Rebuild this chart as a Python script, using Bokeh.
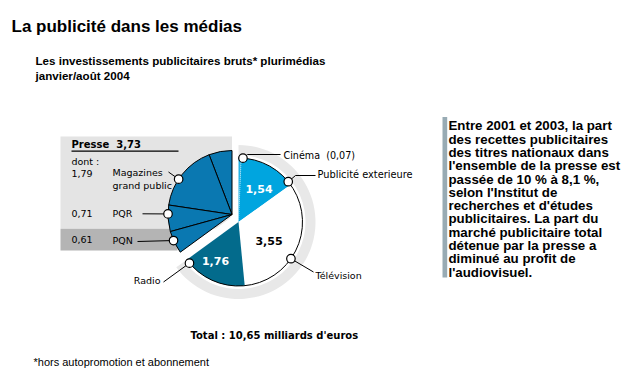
import math
from bokeh.plotting import figure
from bokeh.models import Range1d
from bokeh.embed import file_html
from bokeh.resources import INLINE
from bokeh.core.properties import value

# ---------------- data ----------------
total = 10.65
right_names = ["Cinéma", "Publicité exterieure", "Télévision", "Radio"]
right_values = [0.07, 1.54, 3.55, 1.76]
presse_total = 3.73
presse_names = ["Magazines grand public", "PQR", "PQN"]
presse_values = [1.79, 0.71, 0.61]
value_labels = ["1,54", "3,55", "1,76"]
presse_value_labels = ["1,79", "0,71", "0,61"]

title = "La publicité dans les médias"
subtitle = ["Les investissements publicitaires bruts* plurimédias", "janvier/août 2004"]
footnote = "*hors autopromotion et abonnement"
total_label = "Total : 10,65 milliards d'euros"
side_text = [
    "Entre 2001 et 2003, la part",
    "des recettes publicitaires",
    "des titres nationaux dans",
    "l'ensemble de la presse est",
    "passée de 10 % à 8,1 %,",
    "selon l'Institut de",
    "recherches et d'études",
    "publicitaires. La part du",
    "marché publicitaire total",
    "détenue par la presse a",
    "diminué au profit de",
    "l'audiovisuel.",
]

# ---------------- layout helpers ----------------
W, H = 627, 380
def X(s): return s
def Y(s): return H - s

p = figure(width=W, height=H, x_range=Range1d(0, W), y_range=Range1d(0, H),
           output_backend="svg", toolbar_location=None, min_border=0,
           x_axis_location=None, y_axis_location=None,
           outline_line_color=None, background_fill_color="white",
           border_fill_color="white")
p.grid.visible = False

DEG = 360.0 / total
R = 64
cx, cy = X(238), Y(221.5)
px, py = X(231.5), Y(214)

# right part angles (clockwise from top)
right_angles = []
a = 90.0
for v in right_values:
    end = a
    start = a - v * DEG
    right_angles.append((start, end))
    a = start
right_start = a

# presse angles (anticlockwise from top)
presse_all = [presse_total - sum(presse_values)] + presse_values
presse_angles = []
b = 90.0
for v in presse_all:
    presse_angles.append((b, b + v * DEG))
    b += v * DEG

rad = math.radians

# gray boxes
LIGHT = "#e4e4e4"
DARK = "#b4b4b4"
p.quad(left=[X(60)], right=[X(231.5)], top=[Y(136)], bottom=[Y(228.3)], fill_color=LIGHT, line_color=None)
p.quad(left=[X(60)], right=[X(177)], top=[Y(228.3)], bottom=[Y(250)], fill_color=DARK, line_color=None)

# white separation around the right part
p.wedge(x=[cx], y=[cy], radius=R, start_angle=[rad(right_start)], end_angle=[rad(90)],
        fill_color="white", line_color="white", line_width=16, line_join="round")

# grey ring behind
p.annular_wedge(x=[cx], y=[cy], inner_radius=67, outer_radius=77,
                start_angle=[rad(right_start)], end_angle=[rad(90)],
                fill_color="#e8e8e8", line_color=None)

# presse (exploded)
PRESSE = "#0a78b1"
p.wedge(x=[px] * 4, y=[py] * 4, radius=R,
        start_angle=[rad(s) for s, e in presse_angles],
        end_angle=[rad(e) for s, e in presse_angles],
        fill_color=PRESSE, line_color="black", line_width=1)

# right part
right_colors = ["#22b2e6", "#00a5df", "white", "#036b8c"]
p.wedge(x=[cx] * 4, y=[cy] * 4, radius=R,
        start_angle=[rad(s) for s, e in right_angles],
        end_angle=[rad(e) for s, e in right_angles],
        fill_color=right_colors, line_color=None)
p.arc(x=[cx], y=[cy], radius=R, start_angle=rad(right_start), end_angle=rad(90),
      line_color="black", line_width=1)
# cinema separator
cs = right_angles[0][0]
p.segment(x0=[cx], y0=[cy], x1=[cx + R * math.cos(rad(cs))], y1=[cy + R * math.sin(rad(cs))],
          line_color="#9fdcf3", line_width=1, line_dash="1 1")

# underline of Presse header
p.segment(x0=[X(71)], y0=[Y(150.7)], x1=[X(178)], y1=[Y(150.7)], line_color="black", line_width=1.2)

# markers and leader lines
def on_arc(c, ang, r=R):
    return (c[0] + r * math.cos(rad(ang)), c[1] + r * math.sin(rad(ang)))

markers = [
    (on_arc((cx, cy), 86), [(X(247), Y(154)), (X(280), Y(154))]),
    (on_arc((cx, cy), 39), [(X(295), Y(175)), (X(315), Y(175))]),
    (on_arc((cx, cy), -35), [(X(313), Y(271.5))]),
    (on_arc((cx, cy), -140), [(X(163), Y(281.5))]),
    (on_arc((px, py), 146.5), [(X(168), Y(171.5))]),
    (on_arc((px, py), 179.5), [(X(142), Y(213.3))]),
    (on_arc((px, py), 204), [(X(137), Y(241))]),
]
for (mx, my), pts in markers:
    xs = [mx] + [q[0] for q in pts]
    ys = [my] + [q[1] for q in pts]
    p.line(xs, ys, line_color="black", line_width=1)
mxs = [m[0][0] for m in markers]
mys = [m[0][1] for m in markers]
p.scatter(mxs, mys, size=8.5, marker="circle", fill_color="white", line_color="black", line_width=1.2)

FONT = value("DejaVu Sans")
SANS = value("Liberation Sans")
NB = "\u00a0"

def txt(x, y, s, size, font=FONT, style="normal", color="black", align="left", baseline="middle"):
    p.text(x=[X(x)], y=[Y(y)], text=[s], text_font=font, text_font_size=f"{size}px",
           text_font_style=style, text_color=color, text_align=align, text_baseline=baseline)

# titles
txt(11, 26, title, 17, SANS, "bold", baseline="alphabetic")
txt(35, 59.5, subtitle[0], 11.6, SANS, "bold", baseline="alphabetic")
txt(35, 74.5, subtitle[1], 11.6, SANS, "bold", baseline="alphabetic")

# presse block
txt(71, 143.5, "Presse" + NB + NB + f"{presse_total:.2f}".replace(".", ","), 10, FONT, "bold")
txt(71, 160.5, "dont :", 9.5)
txt(71, 172.5, presse_value_labels[0], 9.5)
txt(112, 171.5, "Magazines", 9.5)
txt(112, 185, "grand public", 9.5)
txt(71, 212.5, presse_value_labels[1], 9.5)
txt(112, 212.8, presse_names[1], 9.5)
txt(71, 238.5, presse_value_labels[2], 9.5)
txt(112, 240, presse_names[2], 9.5)

# right labels
txt(283, 154.5, "Cinéma" + NB + NB + "(" + f"{right_values[0]:.2f}".replace(".", ",") + ")", 9.6)
txt(317, 174, right_names[1], 9.8)
txt(315, 275, right_names[2], 9.5)
txt(160, 280, right_names[3], 9.5, align="right")

# inner values
txt(258.5, 188.7, value_labels[0], 11, FONT, "bold", "white", "center")
txt(268.5, 240.3, value_labels[1], 11, FONT, "bold", "black", "center")
txt(215, 260.3, value_labels[2], 11, FONT, "bold", "white", "center")

# total & footnote
txt(190, 334.5, total_label, 10, FONT, "bold")
txt(33, 361.5, footnote, 11, SANS)

# side text block
p.quad(left=[X(442)], right=[X(446.7)], top=[Y(116.5)], bottom=[Y(277)], fill_color="#98abb4", line_color=None)
for i, line in enumerate(side_text):
    txt(448, 125.3 + i * 13.3, line, 13.3, SANS, "bold")

open("out.html", "w").write(file_html(p, INLINE))
